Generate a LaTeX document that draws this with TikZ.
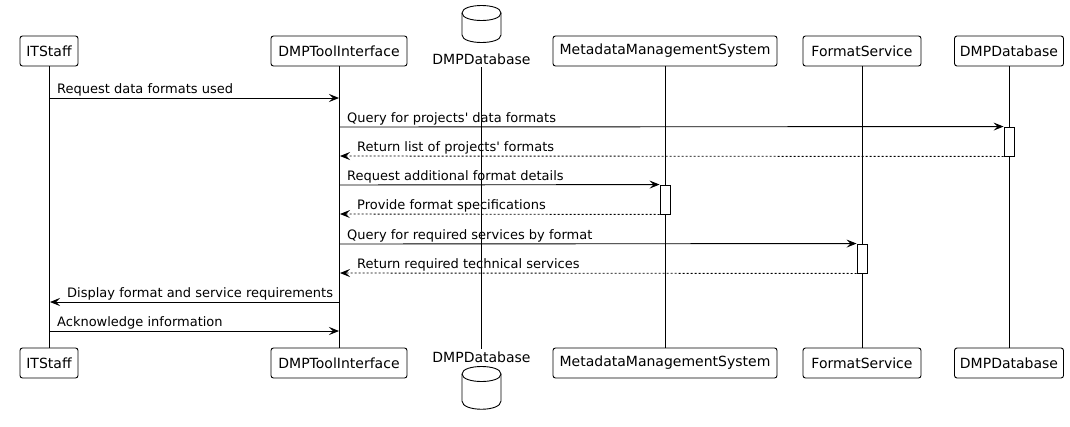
\documentclass[tikz,border=0pt]{standalone}
\usepackage{fontspec}
\setmainfont{DejaVu Sans}
\usetikzlibrary{arrows.meta}
\begin{document}
\begin{tikzpicture}[x=1pt,y=-1pt,
  part/.style={draw, line width=0.9pt, rounded corners=2.5pt, minimum height=30pt, inner sep=0pt, font=\fontsize{14}{16}\selectfont},
  dblabel/.style={inner sep=0pt, minimum height=16pt, font=\fontsize{14}{16}\selectfont},
  life/.style={line width=0.9pt},
  act/.style={draw, fill=white, line width=0.9pt, minimum width=10pt, minimum height=29pt, inner sep=0pt},
  msg/.style={line width=0.9pt, -{Stealth[length=10pt,width=8pt,inset=4pt]}},
  ret/.style={msg, dash pattern=on 2pt off 2pt},
  mlabel/.style={inner sep=0pt, anchor=base west, font=\fontsize{13}{15}\selectfont},
  cyl/.style={line width=0.9pt}
]
\useasboundingbox (0,0) rectangle (1070,426);
\fill[white] (0,0) rectangle (1070,426);

% top heads
\node[part, minimum width=58pt] (tIT) at (49,51) {ITStaff};
\node[part, minimum width=136pt] (tUI) at (339,51) {DMPToolInterface};
\node[dblabel, anchor=south] (tDB) at (481.5,67) {DMPDatabase};
\node[part, minimum width=224pt] (tMM) at (665,51) {MetadataManagementSystem};
\node[part, minimum width=118pt] (tFS) at (862,51) {FormatService};
\node[part, minimum width=109pt] (tPD) at (1009,51) {DMPDatabase};

% bottom heads
\node[part, minimum width=58pt] (bIT) at (49,363) {ITStaff};
\node[part, minimum width=136pt] (bUI) at (339,363) {DMPToolInterface};
\node[dblabel, anchor=north] (bDB) at (481.5,349) {DMPDatabase};
\node[part, minimum width=224pt] (bMM) at (665,363) {MetadataManagementSystem};
\node[part, minimum width=118pt] (bFS) at (862,363) {FormatService};
\node[part, minimum width=109pt] (bPD) at (1009,363) {DMPDatabase};

% database cylinders
\draw[cyl] (462,13) .. controls (462,3) and (501,3) .. (501,13) -- (501,35)
  .. controls (501,45) and (462,45) .. (462,35) -- cycle;
\draw[cyl] (462,13) .. controls (462,23) and (501,23) .. (501,13);
\draw[cyl] (462,374) .. controls (462,364) and (501,364) .. (501,374) -- (501,401)
  .. controls (501,412) and (462,412) .. (462,401) -- cycle;
\draw[cyl] (462,374) .. controls (462,384) and (501,384) .. (501,374);

% lifelines
\draw[life] (tIT.south) -- (bIT.north);
\draw[life] (tUI.south) -- (bUI.north);
\draw[life] (tDB.south) -- (bDB.north);
\draw[life] (tMM.south) -- (bMM.north);
\draw[life] (tFS.south) -- (bFS.north);
\draw[life] (tPD.south) -- (bPD.north);

% activations
\node[act] (a1) at (1009,141.5) {};
\node[act] (a2) at (665,199.5) {};
\node[act] (a3) at (862,258.5) {};

% lifeline points
\coordinate (it1) at (49,98);
\coordinate (ui1) at (339,98);
\coordinate (ui2) at (339,127);
\coordinate (ui3) at (340,156);
\coordinate (ui4) at (339,185);
\coordinate (ui5) at (340,214);
\coordinate (ui6) at (339,244);
\coordinate (ui7) at (340,273);
\coordinate (ui8) at (339,302);
\coordinate (it8) at (50,302);
\coordinate (it9) at (49,331);
\coordinate (ui9) at (339,331);

% messages
\draw[msg] (it1) -- (ui1);
\node[mlabel] (l1) at (57,93) {Request data formats used};
\draw[msg] (ui2) -- (a1.north west);
\node[mlabel] (l2) at (347,122) {Query for projects\textquotesingle{} data formats};
\draw[ret] (a1.south west) -- (ui3);
\node[mlabel] (l3) at (357,151) {Return list of projects\textquotesingle{} formats};
\draw[msg] (ui4) -- (a2.north west);
\node[mlabel] (l4) at (347,180) {Request additional format details};
\draw[ret] (a2.south west) -- (ui5);
\node[mlabel] (l5) at (357,209) {Provide format specifications};
\draw[msg] (ui6) -- (a3.north west);
\node[mlabel] (l6) at (347,239) {Query for required services by format};
\draw[ret] (a3.south west) -- (ui7);
\node[mlabel] (l7) at (357,268) {Return required technical services};
\draw[msg] (ui8) -- (it8);
\node[mlabel] (l8) at (67,297) {Display format and service requirements};
\draw[msg] (it9) -- (ui9);
\node[mlabel] (l9) at (57,326) {Acknowledge information};
\end{tikzpicture}
\end{document}
